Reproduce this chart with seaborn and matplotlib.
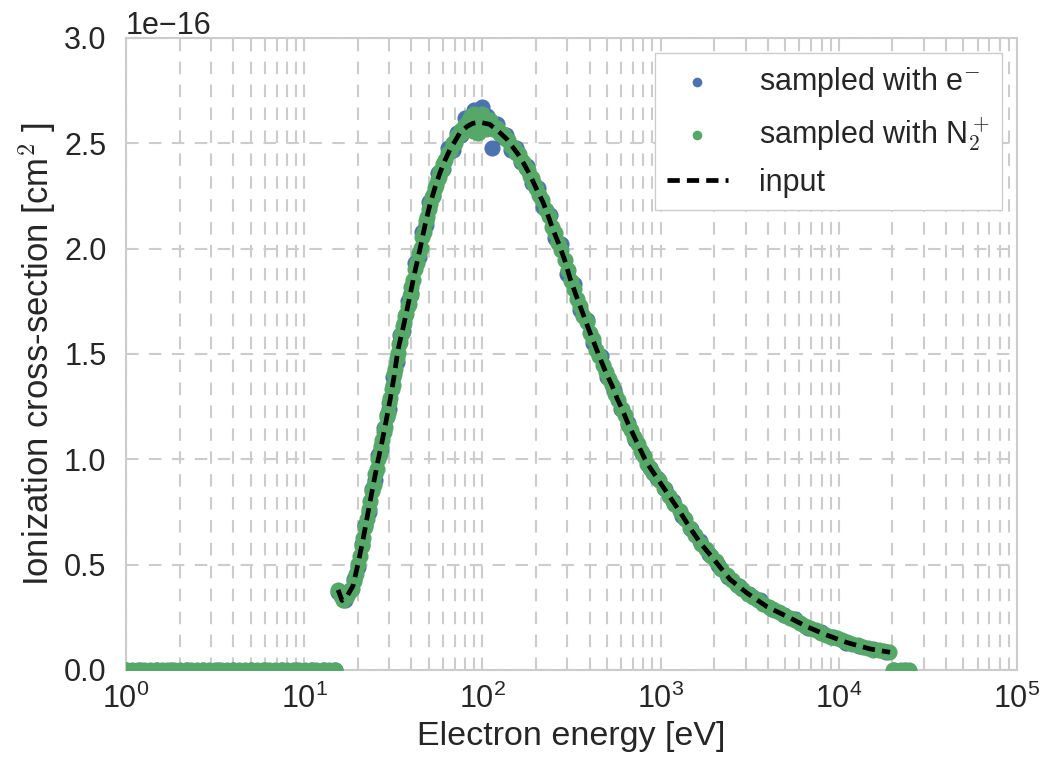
import matplotlib
matplotlib.use("Agg")
import matplotlib.pyplot as plt
import numpy as np
import seaborn as sns

# electron energy in eV, cross-section in units of 1e-16 cm^2
input_energy = [15.5, 16.3, 17.4, 18.8, 20.0, 21.4, 22.8, 24.3, 25.9, 27.3, 28.8,
                30.3, 31.9, 33.6, 35.8, 38.2, 41.3, 44.7, 47.6, 50.8, 54.2, 57.8,
                61.7, 65.8, 70.2, 74.8, 82, 88.5, 97, 110, 125.5, 137, 148.5, 158,
                169, 185, 202, 219, 233, 249, 272, 291, 310, 335, 367, 402, 429,
                457, 494, 534, 569, 607, 656, 700, 766, 817, 873, 993, 1130, 1285,
                1462, 1663, 1968, 2450, 3054, 3955, 5118, 6635, 8590, 11120,
                14970, 19380]
input_sigma = [0.38, 0.33, 0.35, 0.40, 0.50, 0.62, 0.745, 0.87, 0.99, 1.08, 1.18,
               1.28, 1.39, 1.52, 1.62, 1.73, 1.87, 2.00, 2.11, 2.21, 2.29, 2.36,
               2.42, 2.47, 2.51, 2.55, 2.58, 2.595, 2.60, 2.59, 2.55, 2.52, 2.48,
               2.45, 2.41, 2.35, 2.28, 2.22, 2.16, 2.09, 2.01, 1.94, 1.86, 1.78,
               1.69, 1.60, 1.54, 1.48, 1.41, 1.35, 1.29, 1.24, 1.17, 1.12, 1.05,
               1.00, 0.96, 0.89, 0.82, 0.75, 0.675, 0.605, 0.53, 0.43, 0.365,
               0.30, 0.254, 0.205, 0.165, 0.13, 0.10, 0.084]

# sampled with N2+
green_energy = [1.0, 1.08, 1.17, 1.26, 1.36, 1.47, 1.59, 1.71, 1.85, 2.0, 2.16,
                2.33, 2.52, 2.72, 2.94, 3.17, 3.43, 3.7, 4.0, 4.32, 4.66, 5.04,
                5.44, 5.87, 6.34, 6.85, 7.4, 7.99, 8.63, 9.32, 10.1, 10.9, 11.7,
                12.7, 13.7, 14.8,
                15.5, 16.0, 16.5, 17.0, 17.5, 18.0, 18.5, 19.0, 19.5, 20.0, 20.5,
                21.0, 21.5, 22.0, 22.5, 23.0, 23.5, 24.0, 24.5, 25.0, 25.5, 26.0,
                26.5, 27.0, 27.5, 28.0, 28.5, 29.0, 29.5, 30.0, 30.5, 31.0, 31.5,
                32.0, 32.5, 33.0, 33.5, 34.0, 34.5, 35.0, 35.5, 36.0, 36.5, 37.0,
                37.5, 38.0, 38.5, 39.0, 39.5, 40.0,
                41, 42, 43, 44, 45, 46, 47, 48, 49, 50, 51, 52, 53, 54, 55, 56,
                57, 58, 59, 60, 62, 64, 66, 68, 70, 72, 74, 76, 78, 80, 82, 84,
                86, 88, 90, 92, 94, 96, 98, 100,
                105, 110, 115, 120, 125, 130, 135, 140, 145, 150, 155, 160, 165,
                170, 175, 180, 185, 190, 195, 200,
                208, 217, 226, 235, 245, 255, 266, 277, 289, 301, 313, 326, 340,
                354, 369, 384, 400, 417, 435, 453, 472, 492, 512, 534, 556, 580,
                604, 629, 656, 683, 712, 742, 773, 805, 839, 874, 911,
                975, 1043, 1116, 1194, 1278, 1367, 1463, 1565, 1675, 1792, 1917,
                2051, 2195, 2349, 2513, 2689, 2877, 3078, 3294, 3524, 3771, 4035,
                4317, 4619, 4943, 5289, 5659, 6055, 6479, 6932, 7418, 7937, 8493,
                9087, 9723, 10404, 11132, 11911, 12745, 13637, 14592, 15613,
                16706, 17875, 19126,
                20200, 22300, 24700]
green_sigma = [0, 0, 0, 0, 0, 0, 0, 0, 0, 0, 0,
               0, 0, 0, 0, 0, 0, 0, 0, 0, 0, 0,
               0, 0, 0, 0, 0, 0, 0, 0, 0, 0, 0,
               0, 0, 0,
               0.38, 0.35, 0.33, 0.345, 0.35, 0.375, 0.385, 0.42, 0.455, 0.505, 0.54,
               0.59, 0.625, 0.68, 0.715, 0.765, 0.80, 0.85, 0.88, 0.93, 0.955, 1.0,
               1.025, 1.065, 1.09, 1.13, 1.155, 1.2, 1.22, 1.265, 1.29, 1.335, 1.355,
               1.405, 1.43, 1.48, 1.505, 1.545, 1.555, 1.59, 1.60, 1.635, 1.645, 1.68,
               1.69, 1.73, 1.735, 1.775, 1.78, 1.82,
               1.85, 1.905, 1.93, 1.98, 2.005, 2.055, 2.08, 2.13, 2.15, 2.19, 2.21,
               2.245, 2.255, 2.29, 2.30, 2.33, 2.34, 2.37, 2.375, 2.40, 2.42, 2.455,
               2.465, 2.50, 2.50, 2.535, 2.54, 2.565, 2.555, 2.585, 2.57, 2.61, 2.63,
               2.56, 2.64, 2.59, 2.55, 2.63, 2.58, 2.64,
               2.57, 2.61, 2.57, 2.575, 2.545, 2.545, 2.52, 2.515, 2.485, 2.48, 2.455,
               2.45, 2.42, 2.41, 2.385, 2.375, 2.345, 2.335, 2.305, 2.29,
               2.255, 2.23, 2.185, 2.155, 2.105, 2.075, 2.025, 1.995, 1.945, 1.90,
               1.845, 1.81, 1.76, 1.73, 1.68, 1.65, 1.60, 1.57, 1.52, 1.49, 1.45,
               1.415, 1.38, 1.355, 1.31, 1.28, 1.24, 1.21, 1.165, 1.14, 1.105, 1.075,
               1.04, 1.015, 0.98, 0.96, 0.935,
               0.90, 0.865, 0.825, 0.79, 0.755, 0.715, 0.675, 0.64, 0.60, 0.575, 0.54,
               0.515, 0.48, 0.452, 0.425, 0.403, 0.385, 0.362, 0.348, 0.33, 0.314,
               0.297, 0.285, 0.273, 0.262, 0.248, 0.237, 0.223, 0.211, 0.199, 0.19,
               0.177, 0.168, 0.158, 0.151, 0.14, 0.131, 0.123, 0.117, 0.11, 0.103,
               0.097, 0.093, 0.089, 0.085,
               0, 0, 0]

# sampled with e-
blue_energy = [1.0, 1.2, 1.5, 1.8, 2.2, 2.7, 3.3, 4, 5, 6, 7.5, 9, 11, 13, 14.8,
               15.5, 16, 17, 18, 19, 20, 21, 22, 23, 24, 25, 26, 27, 28, 29, 30,
               31.5, 33, 34.5, 36, 38, 40, 42, 44, 46, 48, 50, 53, 56, 60, 64, 68,
               72, 76, 80, 85, 90, 95, 100, 106, 113, 120, 128, 136, 145, 155, 165,
               178, 190, 205, 220, 238, 255, 275, 300, 325, 355, 385, 420, 460,
               500, 550, 600, 660, 720, 790, 870, 960, 1060, 1180, 1320, 1480,
               1660, 1870, 2100, 2400, 2750, 3150, 3600, 4200, 4900, 5700, 6700,
               7900, 9300, 11000, 13000, 15500, 18500, 20500, 23500]
blue_sigma = [0, 0, 0, 0, 0, 0, 0, 0, 0, 0, 0, 0, 0, 0, 0,
              0.37, 0.36, 0.33, 0.38, 0.43, 0.49, 0.60, 0.69, 0.75, 0.86, 0.90,
              1.02, 1.05, 1.15, 1.21, 1.24, 1.39, 1.46, 1.59, 1.61, 1.75, 1.79,
              1.93, 1.96, 2.08, 2.11, 2.22, 2.25, 2.36, 2.38, 2.48, 2.47, 2.55,
              2.54, 2.62, 2.58, 2.66, 2.60, 2.67, 2.63, 2.48, 2.59, 2.53, 2.54,
              2.47, 2.48, 2.41, 2.39, 2.31, 2.29, 2.20, 2.16, 2.05, 2.02, 1.88,
              1.83, 1.71, 1.66, 1.55, 1.49, 1.39, 1.33, 1.24, 1.17, 1.09, 1.03,
              0.96, 0.91, 0.86, 0.80, 0.73, 0.67, 0.61, 0.55, 0.50, 0.44, 0.40,
              0.36, 0.33, 0.29, 0.26, 0.24, 0.20, 0.18, 0.155, 0.13, 0.115,
              0.098, 0.087, 0, 0]

scale = 1e-16

sns.set_theme(style="whitegrid")
plt.rcParams["font.family"] = ["Liberation Sans", "DejaVu Sans"]
plt.rcParams["mathtext.fontset"] = "cm"

fig, ax = plt.subplots(figsize=(10.41, 7.67), dpi=100)
fig.subplots_adjust(left=0.121, right=0.977, bottom=0.1265, top=0.9505)
ax.set_xscale("log")

sns.scatterplot(x=np.array(blue_energy), y=np.array(blue_sigma) * scale,
                color="#4C72B0", s=135, linewidth=0, label="sampled with e$^{-}$",
                ax=ax, zorder=3)
sns.scatterplot(x=np.array(green_energy), y=np.array(green_sigma) * scale,
                color="#55A868", s=135, linewidth=0, label="sampled with N$_2^+$",
                ax=ax, zorder=4)
sns.lineplot(x=np.array(input_energy), y=np.array(input_sigma) * scale,
             color="black", linewidth=3.4, linestyle=(0, (2.6, 1.5)),
             errorbar=None, label="input", ax=ax, zorder=5)

ax.set_xlim(1, 1e5)
ax.set_ylim(0, 3e-16)

grid_kw = dict(color="0.8", linestyle=(0, (6, 5)), linewidth=1.5)
ax.grid(False)
ax.grid(True, which="both", axis="x", **grid_kw)
ax.grid(True, which="major", axis="y", **grid_kw)
ax.set_axisbelow(True)

for sp in ax.spines.values():
    sp.set_color("0.8")
    sp.set_linewidth(1.5)

ax.tick_params(axis="both", which="both", length=0, labelsize=22, colors="0.15")
ax.tick_params(axis="y", pad=14)
ax.tick_params(axis="x", pad=10)
ax.yaxis.get_offset_text().set_fontsize(22)

ax.set_xlabel("Electron energy [eV]", fontsize=24.5, color="0.15")
ax.set_ylabel("Ionization cross-section [cm$^2$ ]", fontsize=25, color="0.15")

leg = ax.legend(loc="upper right", fontsize=22, frameon=True, fancybox=False,
                framealpha=1, edgecolor="0.8", markerscale=0.6,
                handletextpad=1.0, borderaxespad=0.5)
for t in leg.get_texts():
    t.set_color("0.15")

fig.savefig("out.png", dpi=100)
